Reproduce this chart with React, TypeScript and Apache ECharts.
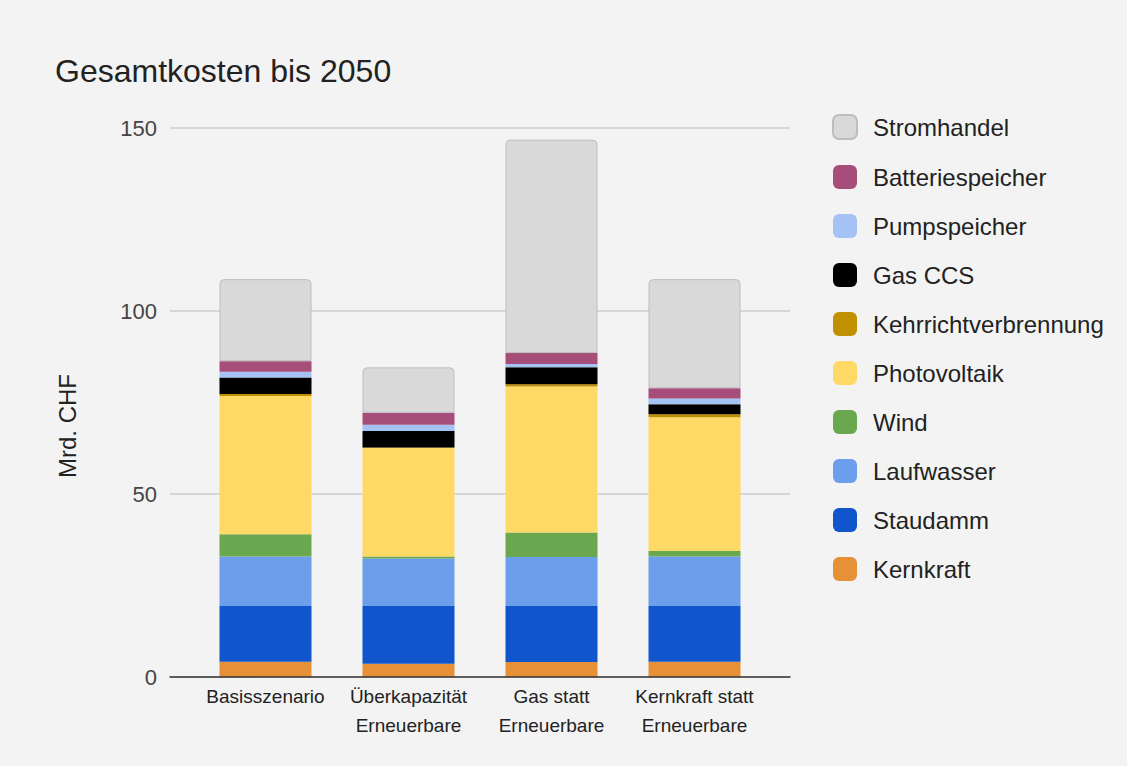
import React, { useEffect, useRef } from "react";
import * as echarts from "echarts";

const categories = ["Basisszenario", "Überkapazität\nErneuerbare", "Gas statt\nErneuerbare", "Kernkraft statt\nErneuerbare"];
const yTicks = [0, 50, 100, 150];

const kernkraft = [4.2, 3.6, 4.1, 4.2];
const staudamm = [15.2, 15.8, 15.3, 15.2];
const laufwasser = [13.5, 13.0, 13.4, 13.5];
const wind = [6.1, 0.5, 6.7, 1.5];
const photovoltaik = [37.8, 29.7, 39.9, 36.6];
const kehrricht = [0.5, 0.1, 0.6, 0.8];
const gasCCS = [4.5, 4.5, 4.6, 2.7];
const pumpspeicher = [1.6, 1.7, 0.9, 1.6];
const batteriespeicher = [2.9, 3.3, 3.0, 2.8];
const stromhandel = [22.4, 12.4, 58.3, 29.8];

const seriesDefs = [
  { name: "Kernkraft", data: kernkraft, color: "#e69138" },
  { name: "Staudamm", data: staudamm, color: "#1155cc" },
  { name: "Laufwasser", data: laufwasser, color: "#6d9eeb" },
  { name: "Wind", data: wind, color: "#6aa84f" },
  { name: "Photovoltaik", data: photovoltaik, color: "#ffd966" },
  { name: "Kehrrichtverbrennung", data: kehrricht, color: "#bf9000" },
  { name: "Gas CCS", data: gasCCS, color: "#000000" },
  { name: "Pumpspeicher", data: pumpspeicher, color: "#a4c2f4" },
  { name: "Batteriespeicher", data: batteriespeicher, color: "#a64d79" },
  { name: "Stromhandel", data: stromhandel, color: "#d9d9d9" },
];

const FONT = "'Liberation Sans', Arial, sans-serif";

export default function App() {
  const ref = useRef<HTMLDivElement>(null);
  useEffect(() => {
    document.body.style.margin = "0";
    const chart = echarts.init(ref.current!, null, { renderer: "svg" });
    const last = seriesDefs.length - 1;
    chart.setOption({
      animation: false,
      backgroundColor: "#f3f3f3",
      textStyle: { fontFamily: FONT },
      title: {
        text: "Gesamtkosten bis 2050",
        left: 50,
        top: 50,
        textStyle: { fontFamily: FONT, fontSize: 32, fontWeight: "normal", color: "#222" },
      },
      legend: {
        orient: "vertical",
        left: 827,
        top: 109,
        itemWidth: 24,
        itemHeight: 24,
        itemGap: 25,
        icon: "roundRect",
        data: seriesDefs.map((s) => s.name).reverse(),
        textStyle: { fontFamily: FONT, fontSize: 24, color: "#222", lineHeight: 24, padding: [0, 0, 0, 11] },
      },
      grid: [
        { left: 170, right: 337, top: 128, bottom: 89 },
        { left: 194, right: 361, top: 128, bottom: 89 },
      ],
      xAxis: [
        {
          type: "value",
          gridIndex: 0,
          min: 0,
          max: 1,
          axisLine: { show: true, onZero: false, lineStyle: { color: "#333", width: 1.5 } },
          axisTick: { show: false },
          axisLabel: { show: false },
          splitLine: { show: false },
          z: 10,
        },
        {
          type: "category",
          gridIndex: 1,
          data: categories,
          axisLine: { show: false },
          axisTick: { show: false },
          axisLabel: { fontFamily: FONT, fontSize: 19, color: "#222", margin: 5, lineHeight: 29, interval: 0 },
        },
      ],
      yAxis: [
        {
          type: "value",
          gridIndex: 0,
          min: yTicks[0],
          max: yTicks[yTicks.length - 1],
          interval: 50,
          axisLine: { show: false },
          axisTick: { show: false },
          axisLabel: { fontFamily: FONT, fontSize: 22, color: "#444", margin: 13 },
          splitLine: { lineStyle: { color: "#cccccc", width: 1.5 } },
        },
        {
          type: "value",
          gridIndex: 1,
          min: 0,
          max: 150,
          interval: 50,
          show: false,
          splitLine: { show: false },
        },
      ],
      graphic: [
        {
          type: "text",
          x: 67,
          y: 426,
          rotation: Math.PI / 2,
          style: {
            text: "Mrd. CHF",
            fontFamily: FONT,
            fontSize: 24,
            fill: "#222",
            align: "center",
            verticalAlign: "middle",
          },
        },
      ],
      series: seriesDefs.map((s, i) => ({
        name: s.name,
        type: "bar",
        stack: "total",
        xAxisIndex: 1,
        yAxisIndex: 1,
        barWidth: 92,
        data: s.data,
        itemStyle:
          i === last
            ? { color: s.color, borderColor: "#bdbdbd", borderWidth: 1, borderRadius: [4, 4, 0, 0] }
            : { color: s.color },
      })),
    });
    return () => chart.dispose();
  }, []);
  return <div ref={ref} style={{ width: 1127, height: 766 }} />;
}
